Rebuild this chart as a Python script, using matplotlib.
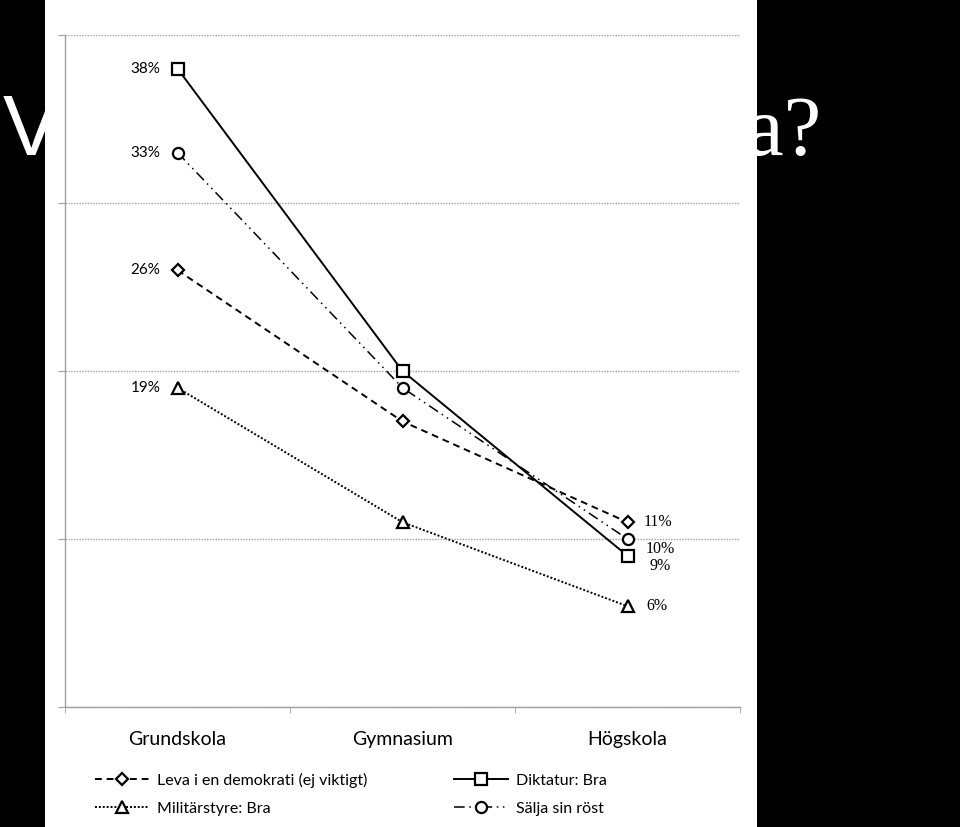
import matplotlib
matplotlib.use("Agg")
import matplotlib.pyplot as plt
from matplotlib.patches import Rectangle

# ---- data ----
categories = ["Grundskola", "Gymnasium", "Högskola"]
series_names = ["Leva i en demokrati (ej viktigt)", "Militärstyre: Bra",
                "Diktatur: Bra", "Sälja sin röst"]
leva = [26, 17, 11]
militar = [19, 11, 6]
diktatur = [38, 20, 9]
salja = [33, 19, 10]
y_ticks = [0, 10, 20, 30, 40]

W, H = 960, 827
fig = plt.figure(figsize=(W / 100, H / 100), dpi=100, facecolor="black")

# title fragments (partly hidden behind the white chart panel)
fig.text(3 / W, 1 - 155 / H, "V", color="white", fontsize=61,
         family="Liberation Sans", ha="left", va="baseline", zorder=0)
fig.text(746 / W, 1 - 155 / H, "a?", color="white", fontsize=61,
         family="Liberation Serif", ha="left", va="baseline", zorder=0)

# white panel (scanned chart)
fig.add_artist(Rectangle((45 / W, 0), 712 / W, 1, transform=fig.transFigure,
                         facecolor="white", edgecolor="none", zorder=1))

ax = fig.add_axes([65 / W, 120 / H, 675 / W, 672 / H], zorder=2)
ax.set_facecolor("none")
x = list(range(len(categories)))

styles = {
    "Leva i en demokrati (ej viktigt)": dict(data=leva, ls=(0, (3.5, 2.5)), lw=1.4,
                                              marker="D", ms=6.5),
    "Militärstyre: Bra": dict(data=militar, ls=(0, (1, 1)), lw=1.4,
                              marker="^", ms=8),
    "Diktatur: Bra": dict(data=diktatur, ls="-", lw=1.4, marker="s", ms=8.5),
    "Sälja sin röst": dict(data=salja, ls=(0, (7, 3, 1, 3, 1, 3)), lw=1.1,
                           marker="o", ms=8),
}
handles = []
for name in series_names:
    s = styles[name]
    ln, = ax.plot(x, s["data"], color="black", linestyle=s["ls"], linewidth=s["lw"],
                  marker=s["marker"], markersize=s["ms"], markerfacecolor="white",
                  markeredgecolor="black", markeredgewidth=1.6, label=name, zorder=3)
    handles.append(ln)

ax.set_xlim(-0.5, 2.5)
ax.set_ylim(0, 40)
ax.set_yticks(y_ticks)
ax.set_yticklabels([])
ax.yaxis.grid(True, color="#a0a0a0", linestyle=(0, (1, 1)), linewidth=1.0)
ax.set_axisbelow(True)
ax.tick_params(axis="y", length=5, color="#a0a0a0", direction="out")
ax.set_xticks(x)
ax.set_xticklabels(categories, family="Lato", fontsize=14)
ax.tick_params(axis="x", which="major", length=0, pad=17)
ax.set_xticks([-0.5, 0.5, 1.5, 2.5], minor=True)
ax.tick_params(axis="x", which="minor", length=4, color="#a0a0a0", direction="out")
for sp in ["top", "right"]:
    ax.spines[sp].set_visible(False)
for sp in ["left", "bottom"]:
    ax.spines[sp].set_color("#a0a0a0")
    ax.spines[sp].set_linewidth(1.0)

# data labels
for name in series_names:
    v = styles[name]["data"][0]
    ax.annotate(f"{v}%", (0, v), xytext=(-17, 0), textcoords="offset pixels",
                ha="right", va="center", fontsize=11, family="Lato")
right_offsets = {
    "Leva i en demokrati (ej viktigt)": (16, 0),
    "Militärstyre: Bra": (19, 0),
    "Diktatur: Bra": (22, -10),
    "Sälja sin röst": (18, -10),
}
for name in series_names:
    v = styles[name]["data"][2]
    ax.annotate(f"{v}%", (2, v), xytext=right_offsets[name], textcoords="offset pixels",
                ha="left", va="center", fontsize=11.5, family="Liberation Serif")

leg = fig.legend(handles=handles, labels=series_names, ncol=2, frameon=False,
                 loc="upper left", bbox_to_anchor=(95 / W, 1 - 773 / H),
                 prop=dict(family="Lato", size=11.5), handlelength=3.4,
                 handletextpad=0.5, columnspacing=5.4, labelspacing=0.85,
                 borderaxespad=0, borderpad=0)

fig.savefig("out.png", dpi=100, facecolor="black")
